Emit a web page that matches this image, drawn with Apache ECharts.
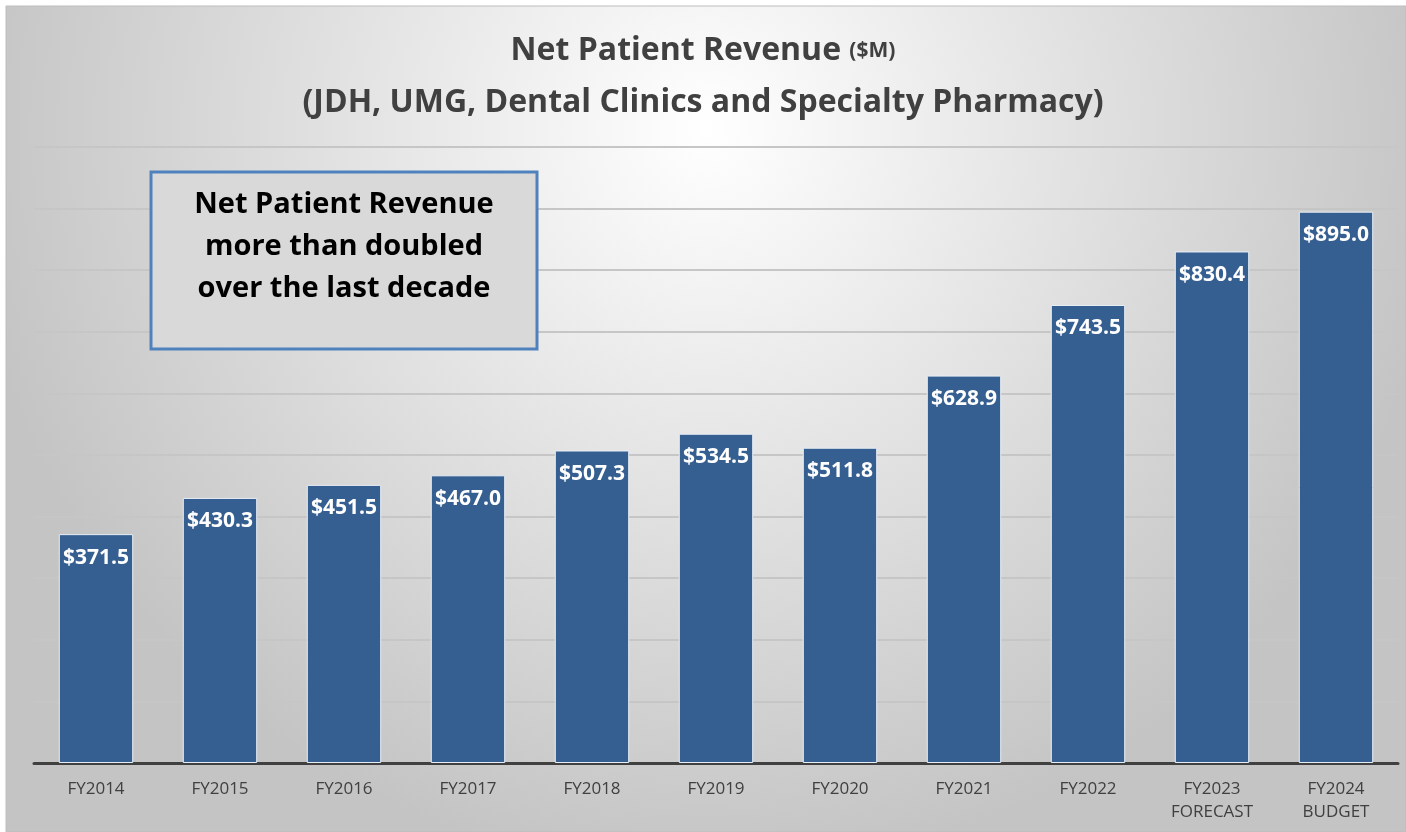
<!DOCTYPE html>
<html>
<head>
<meta charset="utf-8">
<script src="https://cdn.jsdelivr.net/npm/echarts@6/dist/echarts.min.js"></script>
<style>
  html, body { margin: 0; padding: 0; background: #fff; }
  #chart { width: 1406px; height: 832px; }
</style>
</head>
<body>
<div id="chart"></div>
<script>
const categories = ["FY2014", "FY2015", "FY2016", "FY2017", "FY2018", "FY2019", "FY2020", "FY2021", "FY2022", "FY2023\nFORECAST", "FY2024\nBUDGET"];
const revenue = [371.5, 430.3, 451.5, 467.0, 507.3, 534.5, 511.8, 628.9, 743.5, 830.4, 895.0];
const axisMax = 1000;
const axisStep = 100;

const chart = echarts.init(document.getElementById("chart"));
const font = "'Open Sans', 'Noto Sans', sans-serif";

chart.setOption({
  backgroundColor: "#fff",
  graphic: [
    {
      type: "rect",
      z: -10,
      shape: { x: 6, y: 6, width: 1400, height: 826 },
      style: {
        fill: {
          type: "radial", x: 0.5, y: 0.15, r: 0.9,
          colorStops: [
            { offset: 0, color: "#ffffff" },
            { offset: 1, color: "#c4c4c4" },
          ],
        },
        stroke: "#bdbdbd",
        lineWidth: 1,
      },
    },
    {
      type: "rect",
      z: 50,
      shape: { x: 151, y: 172, width: 386, height: 177 },
      style: { fill: "#d9d9d9", stroke: "#4f81bd", lineWidth: 3 },
    },
    {
      type: "text",
      z: 51,
      x: 344, y: 184,
      style: {
        text: "Net Patient Revenue\nmore than doubled\nover the last decade",
        fill: "#000",
        font: "bold 29px " + font,
        lineHeight: 42,
        align: "center",
        verticalAlign: "top",
      },
    },
  ],
  title: {
    text: "{a|Net Patient Revenue }{b|($M)}\n{a|(JDH, UMG, Dental Clinics and Specialty Pharmacy)}",
    left: "center",
    top: 20,
    textStyle: {
      rich: {
        a: { fontFamily: font, fontWeight: "bold", fontSize: 32, color: "#404040", lineHeight: 52 },
        b: { fontFamily: font, fontWeight: "bold", fontSize: 21, color: "#404040", lineHeight: 52 },
      },
    },
  },
  grid: { left: 34, right: 8, top: 147, bottom: 69, containLabel: false },
  xAxis: {
    type: "category",
    data: categories,
    axisLine: { lineStyle: { color: "#404040", width: 3 } },
    axisTick: { show: false },
    axisLabel: { color: "#404040", fontFamily: font, fontSize: 17, margin: 15, lineHeight: 23 },
  },
  yAxis: {
    type: "value",
    min: 0,
    max: axisMax,
    interval: axisStep,
    axisLabel: { show: false },
    axisLine: { show: false },
    axisTick: { show: false },
    splitLine: { lineStyle: { color: "#c6c6c6", width: 2 } },
  },
  series: [
    {
      type: "bar",
      data: revenue,
      barCategoryGap: "40%",
      itemStyle: { color: "#365f91", borderColor: "#e8eef6", borderWidth: 1 },
      label: {
        show: true,
        position: "insideTop",
        distance: 13,
        color: "#fff",
        fontFamily: font,
        fontWeight: "bold",
        fontSize: 21,
        formatter: (p) => "$" + p.value.toFixed(1),
      },
    },
  ],
});
</script>
</body>
</html>
